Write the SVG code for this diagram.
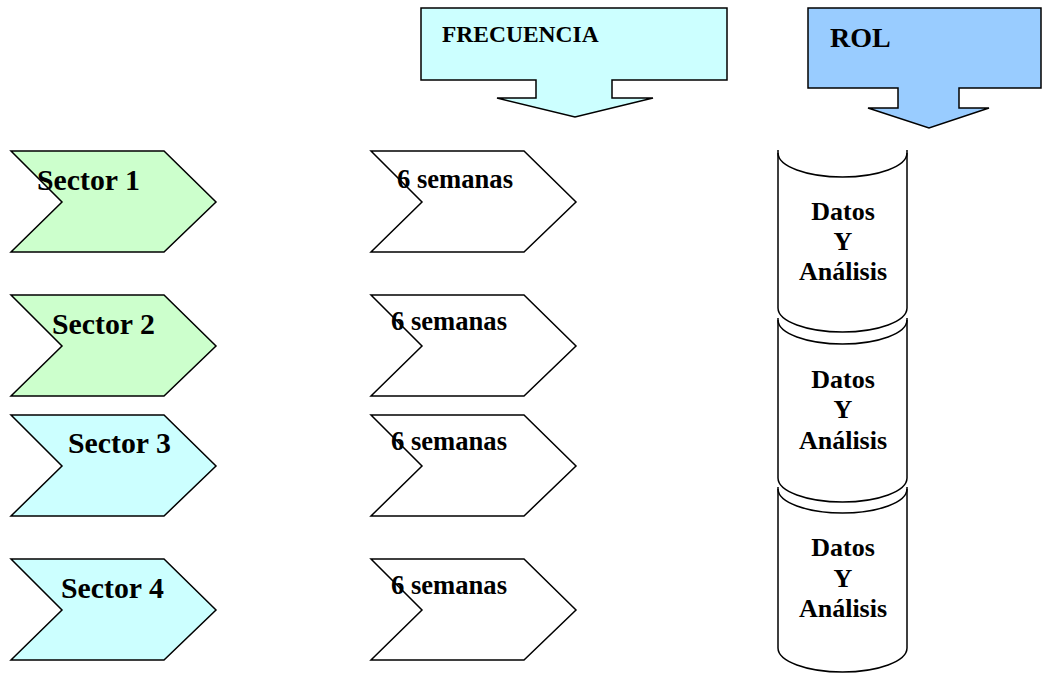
<svg xmlns="http://www.w3.org/2000/svg" width="1043" height="677" viewBox="0 0 1043 677">
<style>
.sh{stroke:#000;stroke-width:1.5;stroke-linejoin:miter}
.t{font-family:"Liberation Serif","Times New Roman",serif;font-weight:bold;fill:#000}
.sec{font-size:29.8px}
.sem{font-size:26.6px}
.cyl{font-size:26px;text-anchor:middle}
.green{fill:#CCFFCC}
.cyan{fill:#CCFFFF}
.blue{fill:#99CCFF}
.white{fill:#fff}
.none{fill:none}
</style>
<defs>
<path id="chev" d="M0,0 L153,0 L205,51 L153,101 L0,101 L51,51 Z"/>
</defs>
<rect width="1043" height="677" fill="#fff"/>

<g id="frecuencia">
<path class="sh cyan" d="M421,8 L727,8 L727,80 L612,80 L612,98 L653,98 L575,117 L497,98 L536,98 L536,80 L421,80 Z"/>
<text class="t" x="442" y="42" font-size="23.5">FRECUENCIA</text>
</g>

<g id="rol">
<path class="sh blue" d="M808,8 L1041,8 L1041,88 L959,88 L959,108 L989,108 L929,128 L868,108 L898,108 L898,88 L808,88 Z"/>
<text class="t" x="830" y="47" font-size="28">ROL</text>
</g>

<g id="sector1">
<use href="#chev" x="11" y="151" class="sh green"/>
<text class="t sec" x="37" y="190">Sector 1</text>
</g>
<g id="sector2">
<use href="#chev" x="11" y="295" class="sh green"/>
<text class="t sec" x="52" y="334">Sector 2</text>
</g>
<g id="sector3">
<use href="#chev" x="11" y="415" class="sh cyan"/>
<text class="t sec" x="68" y="453">Sector 3</text>
</g>
<g id="sector4">
<use href="#chev" x="11" y="559" class="sh cyan"/>
<text class="t sec" x="61" y="598">Sector 4</text>
</g>

<g id="freq1">
<use href="#chev" x="371" y="151" class="sh white"/>
<text class="t sem" x="397" y="188">6 semanas</text>
</g>
<g id="freq2">
<use href="#chev" x="371" y="295" class="sh white"/>
<text class="t sem" x="391" y="330">6 semanas</text>
</g>
<g id="freq3">
<use href="#chev" x="371" y="415" class="sh white"/>
<text class="t sem" x="391" y="450">6 semanas</text>
</g>
<g id="freq4">
<use href="#chev" x="371" y="559" class="sh white"/>
<text class="t sem" x="391" y="594">6 semanas</text>
</g>

<g id="cyl1">
<path class="sh none" d="M778,150 L778,308 A64.5,24 0 0 0 907,308 L907,150"/>
<path class="sh none" d="M778,153 A64.5,24 0 0 0 907,153"/>
<text class="t cyl" x="843" y="220">Datos</text>
<text class="t cyl" x="843" y="250">Y</text>
<text class="t cyl" x="843" y="280">Análisis</text>
</g>
<g id="cyl2">
<path class="sh none" d="M778,318 L778,478 A64.5,24 0 0 0 907,478 L907,318"/>
<path class="sh none" d="M778,320 A64.5,24 0 0 0 907,320"/>
<text class="t cyl" x="843" y="388">Datos</text>
<text class="t cyl" x="843" y="418">Y</text>
<text class="t cyl" x="843" y="449">Análisis</text>
</g>
<g id="cyl3">
<path class="sh none" d="M778,487 L778,648 A64.5,24 0 0 0 907,648 L907,487"/>
<path class="sh none" d="M778,489 A64.5,24 0 0 0 907,489"/>
<text class="t cyl" x="843" y="556">Datos</text>
<text class="t cyl" x="843" y="587">Y</text>
<text class="t cyl" x="843" y="617">Análisis</text>
</g>
<g id="connectors"></g>
</svg>
